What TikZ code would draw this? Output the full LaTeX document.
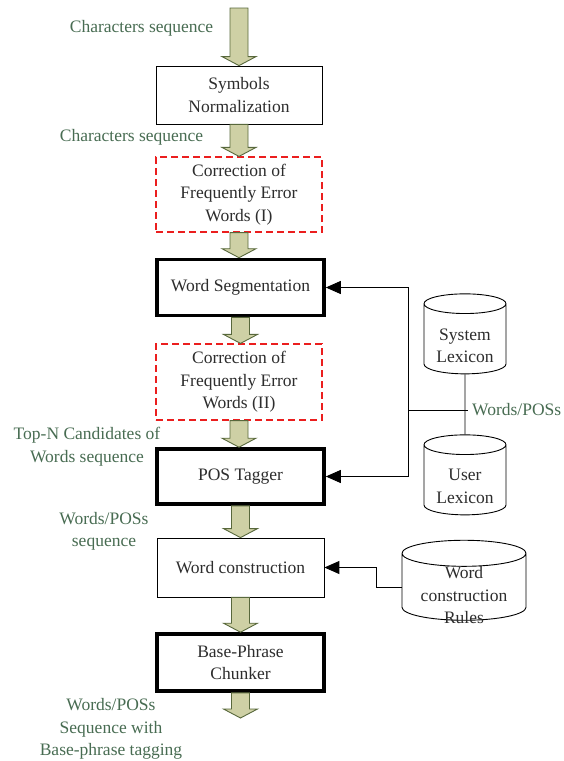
\documentclass[tikz,border=0pt]{standalone}
\usepackage{fontspec}
\setmainfont{Liberation Serif}
\usetikzlibrary{shapes.geometric,arrows.meta,calc}

\definecolor{boxtext}{RGB}{45,45,45}
\definecolor{flowtext}{RGB}{72,108,82}
\definecolor{arrowfill}{RGB}{206,208,165}
\definecolor{arrowline}{RGB}{88,104,60}
\definecolor{dashred}{RGB}{235,30,30}

% broad block arrow from one stage to the next
\newcommand\fatarrow[2]{%
  \path[fatarrow] let \p1=(#1), \p2=(#2) in
    (\x1-9pt,\y1) -- (\x1+9pt,\y1) -- (\x1+9pt,\y2+9pt) --
    (\x1+17pt,\y2+9pt) -- (\x1,\y2) -- (\x1-17pt,\y2+9pt) --
    (\x1-9pt,\y2+9pt) -- cycle;}

\begin{document}
\begin{tikzpicture}[x=1pt,y=-1pt,
  every node/.style={font=\fontsize{17.5}{22.5}\selectfont, text=boxtext, align=center, inner sep=0pt},
  stage/.style={draw=black, line width=0.8pt, fill=white, minimum width=166pt},
  mainstage/.style={draw=black, line width=3.6pt, fill=white, minimum width=167pt},
  fixstage/.style={draw=dashred, line width=1.2pt, dash pattern=on 7pt off 4pt, fill=white, minimum width=166pt},
  store/.style={draw=black, line width=0.9pt, fill=white, cylinder, shape border rotate=90},
  storetext/.style={align=center, text=boxtext},
  flowlabel/.style={text=flowtext},
  fatarrow/.style={draw=arrowline, line width=0.9pt, fill=arrowfill},
  conn/.style={draw=black, line width=0.9pt, -{Triangle[length=15pt,width=13pt]}},
  wire/.style={draw=black, line width=0.9pt}]
\useasboundingbox (0,0) rectangle (564,761);

% processing pipeline
\node[stage, minimum height=58pt] (norm) at (239,95) {Symbols\\Normalization};
\node[fixstage, minimum height=75pt] (fix1) at (239,194.5) {Correction of\\Frequently Error\\Words (I)};
\node[mainstage, minimum height=56pt] (wseg) at (240.5,287.5) {Word Segmentation};
\node[fixstage, minimum height=76pt] (fix2) at (239,382) {Correction of\\Frequently Error\\Words (II)};
\node[mainstage, minimum height=55pt] (pos) at (240.5,476.5) {POS Tagger};
\node[stage, minimum height=59pt, minimum width=167pt] (wcons) at (240.5,567.5) {Word construction};
\node[mainstage, minimum height=57pt] (chunk) at (240.5,662.5) {Base-Phrase\\Chunker};

\coordinate (in) at (239,8);
\coordinate (out) at (240,718);

% data stores (end caps sized from the text width)
\node[store, text width=82pt, minimum width=82pt, minimum height=80pt, aspect=0.24,
      label={[storetext, yshift=-7pt]center:System\\Lexicon}] (sys) at (465,339) {};
\node[store, text width=82pt, minimum width=82pt, minimum height=80pt, aspect=0.24,
      label={[storetext, yshift=-6.5pt]center:User\\Lexicon}] (user) at (465,480) {};
\node[store, text width=124pt, minimum width=124pt, minimum height=80pt, aspect=0.21,
      label={[storetext, yshift=-8.5pt]center:Word\\construction\\Rules}] (rules) at (464,587) {};

% block arrows between stages
\fatarrow{in}{norm.north}
\fatarrow{norm.south}{fix1.north}
\fatarrow{fix1.south}{wseg.north}
\fatarrow{wseg.south}{fix2.north}
\fatarrow{fix2.south}{pos.north}
\fatarrow{pos.south}{wcons.north}
\fatarrow{wcons.south}{chunk.north}
\fatarrow{chunk.south}{out}

% lexicon feed
\coordinate (bus) at (408,410);
\draw[wire] (sys.south) -- (user.north);
\draw[wire] (bus) -- ($(bus -| sys.south)+(3,0)$);
\draw[conn] (bus) |- (wseg.east);
\draw[conn] (bus) |- (pos.east);
\node[flowlabel, anchor=west] (lexdata) at (472,410) {Words/POSs};

% rules feed
\draw[conn] (rules.west) -- ++(-25.5,0) |- (wcons.east);

% data labels
\node[flowlabel] (l1) at (141.5,28) {Characters sequence};
\node[flowlabel] (l2) at (131.5,137) {Characters sequence};
\node[flowlabel] (l3) at (87,446.5) {Top-N Candidates of\\Words sequence};
\node[flowlabel] (l4) at (104,531.5) {Words/POSs\\sequence};
\node[flowlabel] (l5) at (111,729) {Words/POSs\\Sequence with\\Base-phrase tagging};
\end{tikzpicture}
\end{document}
